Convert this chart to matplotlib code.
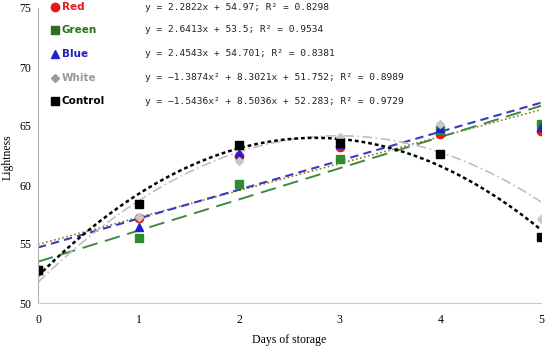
import numpy as np
import matplotlib
matplotlib.use("Agg")
import matplotlib.pyplot as plt
from matplotlib.lines import Line2D

# data
days = [0, 1, 2, 3, 4, 5]
red = [52.8, 57.2, 62.5, 63.2, 64.3, 64.6]
green = [52.8, 55.5, 60.1, 62.2, 64.7, 65.2]
blue = [52.8, 56.4, 62.7, 63.5, 64.8, 64.9]
white = [52.8, 57.3, 62.0, 64.1, 65.2, 57.1]
control = [52.8, 58.4, 63.4, 63.6, 62.6, 55.6]

# trendline coefficients (highest power first)
fit_red = [2.2822, 54.97]
fit_green = [2.6413, 53.5]
fit_blue = [2.4543, 54.701]
fit_white = [-1.3874, 8.3021, 51.752]
fit_control = [-1.5436, 8.5036, 52.283]

names = ["Red", "Green", "Blue", "White", "Control"]
equations = [
    "y = 2.2822x + 54.97; R² = 0.8298",
    "y = 2.6413x + 53.5; R² = 0.9534",
    "y = 2.4543x + 54.701; R² = 0.8381",
    "y = \u22121.3874x² + 8.3021x + 51.752; R² = 0.8989",
    "y = \u22121.5436x² + 8.5036x + 52.283; R² = 0.9729",
]

fig = plt.figure(figsize=(5.5, 3.49), dpi=100)
ax = fig.add_axes([38 / 550, 1 - 303 / 349, 503 / 550, 295 / 349])

xs = np.linspace(0, 5, 200)
# trend lines
ax.plot(xs, np.polyval(fit_red, xs), color="#9a7a1a", ls=(0, (1, 1.5)), lw=1.2)
ax.plot(xs, np.polyval(fit_green, xs), color="#3f8a3f", ls=(0, (8, 4)), lw=1.4)
ax.plot(xs, np.polyval(fit_blue, xs), color="#3a3ac0", ls=(0, (4, 2.5)), lw=1.5)
ax.plot(xs, np.polyval(fit_white, xs), color="#c0c0c0", ls=(0, (6, 2, 1, 2)), lw=1.2)
ax.plot(xs, np.polyval(fit_control, xs), color="black", ls=(0, (1.5, 1.2)), lw=1.8)

# points
ax.plot(days, red, "o", color="#e21a1a", ms=6, ls="none")
ax.plot(days, green, "s", color="#2e8b2e", ms=6, ls="none")
ax.plot(days, blue, "^", color="#2020d0", ms=6, ls="none")
ax.plot(days, white, "D", color="#c8c8c8", ms=4.5, ls="none")
ax.plot(days, control, "s", color="black", ms=6, ls="none")

ax.set_xlim(0, 5)
ax.set_ylim(50, 75)
ax.set_xticks(range(6))
ax.set_yticks(range(50, 76, 5))
ax.tick_params(length=0, labelsize=8.5)
ax.tick_params(axis="x", pad=8)
ax.tick_params(axis="y", pad=5)
for lbl in ax.get_xticklabels() + ax.get_yticklabels():
    lbl.set_family("Liberation Serif")
ax.spines["top"].set_visible(False)
ax.spines["right"].set_visible(False)
ax.spines["left"].set_color("#b0b0b0")
ax.spines["bottom"].set_color("#c8c8c8")
ax.set_xlabel("Days of storage", family="Liberation Serif", fontsize=8.5, labelpad=6)
fig.text(8 / 550, 1 - 157 / 349, "Lightness", family="Liberation Serif",
         fontsize=8.5, rotation=90, ha="center", va="center")

# legend with equations
styles = [("o", "#e21a1a", 6), ("s", "#2e6e1e", 5.5), ("^", "#2020d0", 5.5),
          ("D", "#9a9a9a", 4), ("s", "black", 5.5)]
name_colors = ["#e21a1a", "#2e6e1e", "#2020c0", "#9a9a9a", "black"]
rows_y = [7, 30, 54, 78, 101]
for (mk, c, ms), name, nc, eq, yp in zip(styles, names, name_colors, equations, rows_y):
    fy = 1 - yp / 349
    fig.add_artist(Line2D([55 / 550], [fy], marker=mk, color=c, ms=ms, ls="none",
                          transform=fig.transFigure))
    fig.text(62 / 550, fy, name, color=nc, fontsize=7.5, fontweight="bold",
             family="DejaVu Sans", va="center")
    fig.text(145 / 550, fy, eq, color="#222222", fontsize=6.8,
             family="DejaVu Sans Mono", va="center")

fig.savefig("out.png", dpi=100)
